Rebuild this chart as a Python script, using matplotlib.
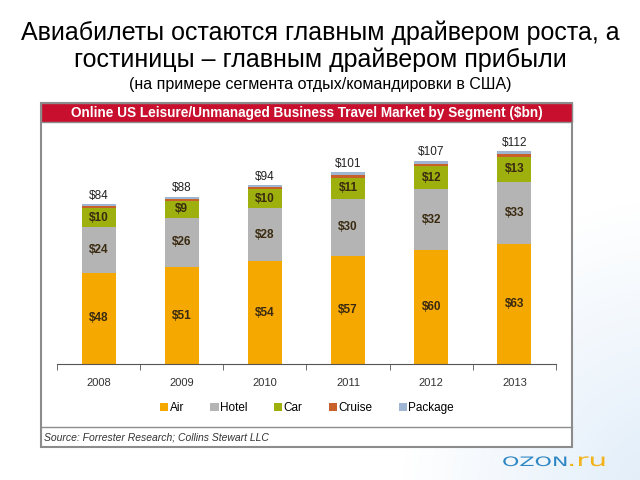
import numpy as np
import matplotlib.pyplot as plt
from matplotlib.patches import Rectangle, Patch, PathPatch
from matplotlib.textpath import TextPath
from matplotlib.font_manager import FontProperties
from matplotlib.transforms import Affine2D

plt.rcParams['font.family'] = ['Liberation Sans', 'DejaVu Sans']

years = ['2008', '2009', '2010', '2011', '2012', '2013']
air = [48, 51, 54, 57, 60, 63]
hotel = [24, 26, 28, 30, 32, 33]
car = [10, 9, 10, 11, 12, 13]
cruise = [1, 1, 1, 1.5, 1.5, 1.5]
package = [1, 1, 1, 1.5, 1.5, 1.5]
totals = [84, 88, 94, 101, 107, 112]

series = [('Air', air, '#F5A800'), ('Hotel', hotel, '#B4B4B4'),
          ('Car', car, '#9DB00E'), ('Cruise', cruise, '#C8602A'),
          ('Package', package, '#9FB6D2')]
labelled = ['Air', 'Hotel', 'Car']

fig = plt.figure(figsize=(6.4, 4.8), dpi=100)

# soft blue background glow in the bottom right corner
bg = fig.add_axes([0, 0, 1, 1], zorder=-10)
yy, xx = np.mgrid[0:480, 0:640]
d = np.sqrt(((xx - 660) / 260.0) ** 2 + ((yy - 500) / 300.0) ** 2)
a = np.clip(1.0 - d, 0, 1) * 0.55
img = np.ones((480, 640, 4))
img[..., 0] = 0.78
img[..., 1] = 0.87
img[..., 2] = 0.96
img[..., 3] = a
bg.imshow(img, extent=[0, 1, 0, 1], aspect='auto')
bg.axis('off')

# titles
fig.text(0.5, 1 - 33 / 480, 'Авиабилеты остаются главным драйвером роста, а',
         ha='center', va='center', fontsize=18)
fig.text(0.5, 1 - 60 / 480, 'гостиницы – главным драйвером прибыли',
         ha='center', va='center', fontsize=18)
fig.text(0.5, 1 - 84 / 480, '(на примере сегмента отдых/командировки в США)',
         ha='center', va='center', fontsize=11.5)

# framed panel
bl, br, bt, bb = 41 / 640, 572 / 640, 1 - 103 / 480, 1 - 447 / 480
fig.patches.append(Rectangle((bl, bb), br - bl, bt - bb, transform=fig.transFigure,
                             facecolor='white', edgecolor='#8C8C8C', lw=1.5, zorder=0))
hh = 19 / 480
fig.patches.append(Rectangle((bl, bt - hh), br - bl, hh, transform=fig.transFigure,
                             facecolor='#C8102E', edgecolor='#8C8C8C', lw=1.0, zorder=1))
fig.text((bl + br) / 2, bt - hh / 2,
         'Online US Leisure/Unmanaged Business Travel Market by Segment ($bn)',
         ha='center', va='center', color='white', fontsize=9.8, fontweight='bold', zorder=2)
fig.lines.append(plt.Line2D([bl, br], [1 - 427 / 480] * 2, transform=fig.transFigure,
                            color='#8C8C8C', lw=1.0))
fig.text(44 / 640, 1 - 437 / 480, 'Source: Forrester Research; Collins Stewart LLC',
         ha='left', va='center', fontsize=7.5, style='italic', color='#333333')

# chart
ax = fig.add_axes([57 / 640, 116 / 480, 499 / 640, 224 / 480], zorder=5)
ax.patch.set_alpha(0)
x = np.arange(len(years))
bottom = np.zeros(len(years))
for name, vals, col in series:
    vals = np.array(vals, dtype=float)
    ax.bar(x, vals, 0.41, bottom=bottom, color=col, zorder=2)
    if name in labelled:
        for xi, b, v in zip(x, bottom, vals):
            ax.text(xi, b + v / 2, '$%d' % v, ha='center', va='center',
                    fontsize=8.5, fontweight='bold', color='#3A2A10', zorder=3)
    bottom += vals
for xi, t in zip(x, totals):
    ax.text(xi, t + 1.3, '$%d' % t, ha='center', va='bottom', fontsize=8.5, color='#222222')

ax.set_xlim(-0.5, len(years) - 0.5)
ax.set_ylim(0, 224 / 1.9)
for s in ['left', 'right', 'top']:
    ax.spines[s].set_visible(False)
ax.spines['bottom'].set_color('#555555')
ax.set_yticks([])
ax.set_xticks(x)
ax.set_xticklabels(years, fontsize=8, color='#333333')
ax.tick_params(axis='x', which='major', length=0, pad=10)
ax.set_xticks(np.arange(-0.5, len(years)), minor=True)
ax.tick_params(axis='x', which='minor', length=4, color='#555555')

handles = [Patch(facecolor=c, edgecolor='none', label=n) for n, _, c in series]
fig.legend(handles=handles, loc='center', bbox_to_anchor=(307 / 640, 1 - 408 / 480),
           ncol=5, frameon=False, fontsize=8.5, handlelength=0.7, handleheight=0.7,
           handletextpad=0.1, columnspacing=2.25)

# logo, drawn as stretched outlines in pixel units
lg = fig.add_axes([490 / 640, 0, 130 / 640, 35 / 480], zorder=6)
lg.set_xlim(490, 620)
lg.set_ylim(480, 445)
lg.axis('off')
fp = FontProperties(family='DejaVu Sans')
for txt, size, x0, col in [('OZON', 13.0, 502, '#2F86C4'), ('.ru', 17.3, 567, '#F2B31A')]:
    tp = TextPath((0, 0), txt, size=size, prop=fp)
    tr = Affine2D().scale(1.7, -1.0).translate(x0, 466)
    lg.add_patch(PathPatch(tr.transform_path(tp), facecolor=col, edgecolor='none'))

fig.savefig('out.png', dpi=100)
